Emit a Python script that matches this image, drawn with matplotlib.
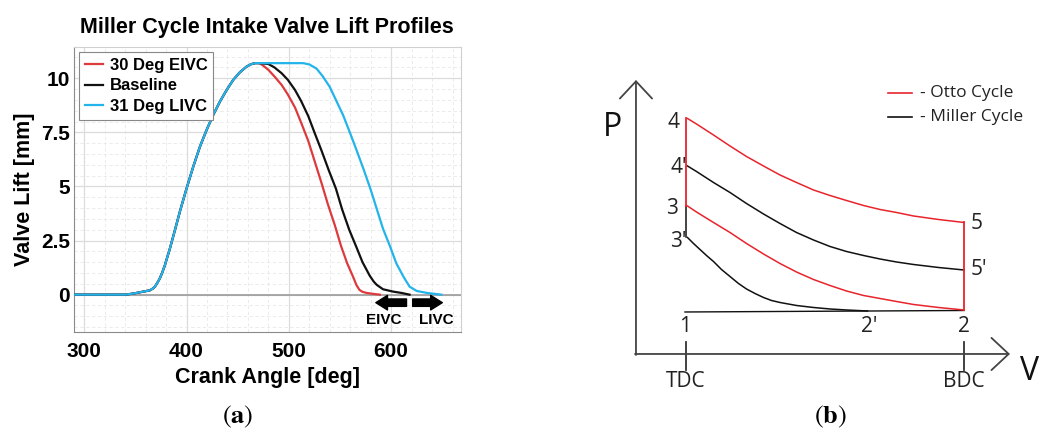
import matplotlib
matplotlib.use('Agg')
import matplotlib.pyplot as plt

# --- panel (a): valve lift profiles ---
# opening flank is shared by all three profiles
rise_deg = [290, 340, 348, 354.4, 360, 364.2, 367, 369.1, 371.5, 374, 376.5, 378.9, 381.3, 383.8,
            388.7, 393.5, 400.1, 406.6, 413.1, 419.6, 426.1, 432.6, 439.2, 445.7, 452.2, 458.7,
            463, 467, 471]
rise_lift = [0, 0, 0.05, 0.11, 0.16, 0.20, 0.28, 0.37, 0.55, 0.76, 1.05, 1.37, 1.75, 2.14,
             2.99, 3.84, 4.92, 5.92, 6.84, 7.61, 8.31, 8.92, 9.46, 9.93, 10.28, 10.54,
             10.65, 10.70, 10.70]

eivc_deg = [474, 480, 486, 493, 499, 506, 512, 519, 525, 532, 538, 545, 551, 557, 563, 566,
            569, 572, 576, 582, 589]
eivc_lift = [10.62, 10.39, 10.08, 9.69, 9.25, 8.65, 7.95, 7.10, 6.20, 5.15, 4.20, 3.20, 2.25,
             1.45, 0.80, 0.45, 0.22, 0.13, 0.08, 0.04, 0]

base_deg = [480, 486, 493, 499, 506, 512, 519, 525, 532, 539, 546, 552, 559, 566, 572, 579,
            583, 586, 592, 602, 610, 618]
base_lift = [10.66, 10.50, 10.23, 9.93, 9.46, 8.95, 8.25, 7.50, 6.65, 5.75, 4.90, 3.95, 3.00,
             2.20, 1.50, 0.88, 0.60, 0.45, 0.25, 0.14, 0.08, 0]

livc_deg = [514, 520, 527, 533, 540, 546, 553, 560, 566, 573, 580, 586, 592, 599, 605, 612,
            618, 625, 635, 649]
livc_lift = [10.70, 10.64, 10.45, 10.10, 9.60, 9.00, 8.30, 7.45, 6.70, 5.80, 4.85, 3.95, 3.05,
             2.22, 1.45, 0.83, 0.37, 0.17, 0.08, 0]

series_names = ['30 Deg EIVC', 'Baseline', '31 Deg LIVC']
series_colors = ['#dd3a3e', '#111111', '#22b4ea']

x_ticks = [300, 400, 500, 600]
y_ticks = [0, 2.5, 5, 7.5, 10]
y_tick_labels = ['0', '2.5', '5', '7.5', '10']

# arrows under the axis: (start, end) in deg
eivc_arrow = (615, 585)
livc_arrow = (621, 650)
arrow_y = -0.37
label_y = -1.17

# --- panel (b): schematic P-V diagram (arbitrary units) ---
curve_v = [1.03, 1.21, 1.55, 1.88, 2.21, 2.55, 2.88, 3.21, 3.55, 3.88, 4.21, 4.55, 4.88, 5.21,
           5.55, 6.05, 6.56]
otto_exp_p = [4.71, 4.60, 4.38, 4.16, 3.95, 3.76, 3.58, 3.43, 3.28, 3.17, 3.07, 2.97, 2.89,
              2.83, 2.76, 2.69, 2.63]
otto_comp_p = [2.96, 2.84, 2.63, 2.43, 2.21, 2.00, 1.81, 1.64, 1.49, 1.37, 1.26, 1.17, 1.11,
               1.05, 0.99, 0.93, 0.88]
miller_exp_p = [3.76, 3.65, 3.43, 3.23, 3.01, 2.80, 2.61, 2.43, 2.28, 2.15, 2.05, 1.97, 1.90,
                1.84, 1.79, 1.73, 1.68]

miller_comp_v = [1.03, 1.15, 1.28, 1.41, 1.55, 1.71, 1.88, 2.05, 2.21, 2.38, 2.55, 2.71, 2.88,
                 3.21, 3.55, 3.88, 4.21, 4.63]
miller_comp_p = [2.33, 2.21, 2.09, 1.97, 1.85, 1.69, 1.55, 1.41, 1.30, 1.21, 1.13, 1.07, 1.03,
                 0.97, 0.93, 0.90, 0.88, 0.86]

intake_v = [0.98, 6.56]
intake_p = [0.84, 0.87]

v_tdc, v_bdc = 1.0, 6.56
state_labels = ['4', "4'", '3', "3'", '5', "5'", '1', "2'", '2']
state_v = [0.87, 1.03, 0.84, 1.02, 6.69, 6.69, 0.98, 4.67, 6.56]
state_p = [4.63, 3.73, 2.91, 2.25, 2.61, 1.68, 0.55, 0.55, 0.55]

fig = plt.figure(figsize=(10.45, 4.3), dpi=100)

# ---------------- panel (a) ----------------
ax = fig.add_axes([0.0708, 0.2272, 0.3701, 0.6642])
bold = dict(family='Liberation Sans', weight='bold')

curves = [(rise_deg + eivc_deg, rise_lift + eivc_lift),
          (rise_deg + base_deg, rise_lift + base_lift),
          (rise_deg + livc_deg, rise_lift + livc_lift)]
ax.axhline(0, color='#9a9a9a', lw=1.2, zorder=1)
for (xd, yd), name, col in zip(curves, series_names, series_colors):
    ax.plot(xd, yd, color=col, lw=1.6, label=name, zorder=3, solid_joinstyle='round')

ax.set_xlim(290, 668)
ax.set_ylim(-1.74, 11.46)
ax.set_xticks(x_ticks)
ax.set_xticks(range(300, 661, 20), minor=True)
ax.set_yticks(y_ticks)
ax.set_yticklabels(y_tick_labels)
ax.set_yticks([v / 2 for v in range(-3, 23)], minor=True)
ax.grid(which='major', color='#dcdcdc', lw=0.9)
ax.grid(which='minor', color='#e8e8e8', lw=0.6, ls=(0, (4, 3)))
ax.set_axisbelow(True)
ax.tick_params(which='both', length=0, pad=7)
ax.tick_params(axis='y', pad=3)
for lab in ax.get_xticklabels() + ax.get_yticklabels():
    lab.set_fontproperties(bold)
    lab.set_fontsize(15)
for side in ['top', 'right']:
    ax.spines[side].set_color('#d0d0d0')
for side in ['left', 'bottom']:
    ax.spines[side].set_color('#8a8a8a')

ax.set_xlabel('Crank Angle [deg]', fontsize=15.5, labelpad=4, **bold)
ax.set_ylabel('Valve Lift [mm]', fontsize=15.5, labelpad=4, **bold)
fig.text(0.2552, 0.936, 'Miller Cycle Intake Valve Lift Profiles', ha='center', va='center',
         fontsize=15.5, **bold)

leg = ax.legend(loc='upper left', prop=dict(family='Liberation Sans', weight='bold', size=12),
                handlelength=1.1, handletextpad=0.4, labelspacing=0.35, borderpad=0.35,
                borderaxespad=0.3, fancybox=False, framealpha=1, edgecolor='#888888')
leg.get_frame().set_linewidth(0.8)

arrow_style = 'simple,head_length=0.6,head_width=0.75,tail_width=0.38'
for x0, x1 in [eivc_arrow, livc_arrow]:
    ax.annotate('', xy=(x1, arrow_y), xytext=(x0, arrow_y),
                arrowprops=dict(arrowstyle=arrow_style, color='black', mutation_scale=14,
                                shrinkA=0, shrinkB=0))
ax.text(593, label_y, 'EIVC', ha='center', va='center', fontsize=11, **bold)
ax.text(644, label_y, 'LIVC', ha='center', va='center', fontsize=11, **bold)

# ---------------- panel (b) ----------------
bx = fig.add_axes([0.555, 0.0698, 0.445, 0.7907])
bx.set_xlim(-1.12, 8.18)
bx.set_ylim(-0.92, 5.88)
bx.axis('off')
sf = dict(family=['Open Sans', 'DejaVu Sans'])
red = '#e8242c'

open_head = '->,head_length=0.62,head_width=0.58'
bx.annotate('', xy=(0, 5.48), xytext=(0, -0.02),
            arrowprops=dict(arrowstyle=open_head, color='#444444', lw=1.3, mutation_scale=20,
                            shrinkA=0, shrinkB=0))
bx.annotate('', xy=(7.48, 0), xytext=(-0.02, 0),
            arrowprops=dict(arrowstyle=open_head, color='#444444', lw=1.3, mutation_scale=20,
                            shrinkA=0, shrinkB=0))
for v in [v_tdc, v_bdc]:
    bx.plot([v, v], [0.23, -0.32], color='#333333', lw=1.3)

bx.plot(intake_v, intake_p, color='#111111', lw=1.0)
bx.plot(miller_comp_v, miller_comp_p, color='#111111', lw=1.1)
bx.plot(curve_v, miller_exp_p, color='#111111', lw=1.1)
bx.plot([v_tdc, v_tdc], [miller_comp_p[0], otto_comp_p[0]], color='#111111', lw=1.1)
bx.plot(curve_v, otto_exp_p, color=red, lw=1.1)
bx.plot(curve_v, otto_comp_p, color=red, lw=1.1)
bx.plot([v_tdc, v_tdc], [otto_comp_p[0], otto_exp_p[0]], color=red, lw=1.3)
bx.plot([v_bdc, v_bdc], [otto_comp_p[-1], otto_exp_p[-1]], color=red, lw=1.3)

for lab, v, p in zip(state_labels, state_v, state_p):
    if lab in ['5', "5'"]:
        ha = 'left'
    elif lab in ['1', "2'", '2']:
        ha = 'center'
    else:
        ha = 'right'
    bx.text(v, p, lab, ha=ha, va='center', fontsize=15, color='#222222', **sf)

bx.text(-0.46, 4.52, 'P', ha='center', va='center', fontsize=23, color='#111111', **sf)
bx.text(7.88, -0.36, 'V', ha='center', va='center', fontsize=23, color='#111111', **sf)
bx.text(v_tdc, -0.55, 'TDC', ha='center', va='center', fontsize=15, color='#222222', **sf)
bx.text(v_bdc, -0.55, 'BDC', ha='center', va='center', fontsize=15, color='#222222', **sf)

bx.plot([5.04, 5.52], [5.21, 5.21], color=red, lw=1.2)
bx.plot([5.04, 5.52], [4.73, 4.73], color='#111111', lw=1.2)
bx.text(5.68, 5.21, '- Otto Cycle', ha='left', va='center', fontsize=12.5, color='#222222', **sf)
bx.text(5.68, 4.73, '- Miller Cycle', ha='left', va='center', fontsize=12.5, color='#222222', **sf)

# captions
plt.rcParams['mathtext.fontset'] = 'stix'
fig.text(237.7 / 1045, 1 - 416.7 / 430, r'$(\mathbf{a})$', ha='center', va='center', fontsize=19)
fig.text(830 / 1045, 1 - 416.7 / 430, r'$(\mathbf{b})$', ha='center', va='center', fontsize=19)

fig.savefig('out.png', dpi=100)
